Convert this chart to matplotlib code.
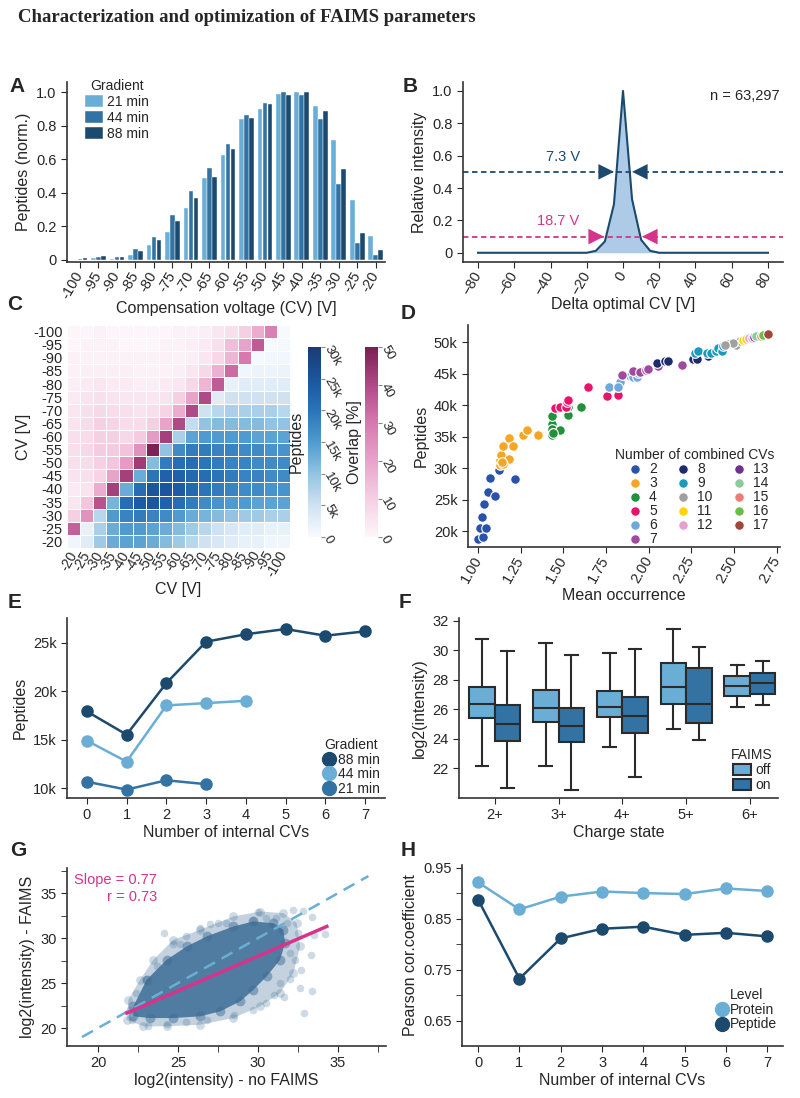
# FAIMS parameter characterization - multi-panel figure (A-H)

import numpy as np
import matplotlib
matplotlib.use('Agg')
import matplotlib.pyplot as plt
from matplotlib.colors import LinearSegmentedColormap
from matplotlib.lines import Line2D
from matplotlib.patches import Patch
from matplotlib.ticker import FuncFormatter, MultipleLocator

plt.rcParams['font.family'] = ['Liberation Sans', 'DejaVu Sans']
plt.rcParams['text.color'] = '#262626'
plt.rcParams['axes.labelcolor'] = '#262626'
plt.rcParams['xtick.color'] = '#262626'
plt.rcParams['ytick.color'] = '#262626'
plt.rcParams['axes.edgecolor'] = '#333333'
plt.rcParams['axes.linewidth'] = 1.2
plt.rcParams['xtick.major.size'] = 4
plt.rcParams['ytick.major.size'] = 4
plt.rcParams['xtick.minor.size'] = 4
plt.rcParams['ytick.minor.size'] = 4
plt.rcParams['xtick.labelsize'] = 10.5
plt.rcParams['ytick.labelsize'] = 10.5
plt.rcParams['axes.labelsize'] = 11.5
plt.rcParams['legend.fontsize'] = 10
plt.rcParams['legend.title_fontsize'] = 10
plt.rcParams['legend.frameon'] = False

light = '#6aaed6'
mid = '#3373a3'
dark = '#1c4a6e'
pink = '#d6338a'

# ---- data ----
# A: normalized peptides per CV
cv_values = [-100, -95, -90, -85, -80, -75, -70, -65, -60, -55, -50, -45, -40, -35, -30, -25, -20]
a_21min = [0.002, 0.01, 0.006, 0.03, 0.087, 0.169, 0.312, 0.487, 0.624, 0.839, 0.90, 0.99, 1.0, 0.92, 0.716, 0.358, 0.141]
a_44min = [0.006, 0.02, 0.016, 0.064, 0.139, 0.268, 0.41, 0.549, 0.69, 0.863, 0.936, 1.0, 0.98, 0.839, 0.45, 0.103, 0.028]
a_88min = [0.012, 0.024, 0.02, 0.056, 0.119, 0.233, 0.372, 0.497, 0.662, 0.847, 0.928, 0.982, 1.0, 0.885, 0.541, 0.163, 0.06]

# B: delta optimal CV profile
b_delta = [-80, -20, -15, -10, -5, 0, 5, 10, 15, 20, 80]
b_intensity = [0, 0, 0.012, 0.07, 0.3, 1.0, 0.33, 0.08, 0.012, 0, 0]

# C: heatmap, CV order from -20 (bottom/left) to -100
c_cv = [-20, -25, -30, -35, -40, -45, -50, -55, -60, -65, -70, -75, -80, -85, -90, -95, -100]
# peptides (k), row i holds columns i..16
c_peptides = [
    [1, 3, 9, 13, 14, 14, 13, 11, 9, 7, 5, 4, 3, 2, 2, 1, 1],
    [2, 8, 13, 15, 15, 14, 13, 11, 9, 7, 5, 4, 3, 3, 2, 2],
    [7, 15, 18, 19, 18, 17, 15, 13, 12, 11, 10, 9, 9, 8, 8],
    [12, 21, 24, 25, 23, 21, 19, 17, 16, 15, 15, 14, 14, 14],
    [13, 21, 25, 25, 24, 22, 20, 19, 18, 17, 17, 16, 16],
    [13, 20, 23, 23, 22, 21, 20, 19, 18, 18, 17, 17],
    [11, 19, 21, 21, 20, 19, 18, 18, 17, 17, 17],
    [10, 17, 19, 19, 18, 18, 17, 17, 16, 16],
    [8, 14, 15, 15, 15, 15, 14, 14, 14],
    [6, 10, 11, 11, 11, 11, 10, 10],
    [5, 7, 8, 8, 8, 8, 7],
    [3, 5, 5, 5, 5, 5],
    [2, 3, 3, 3, 3],
    [1, 1.5, 1.5, 1.5],
    [0.5, 0.8, 0.8],
    [0.3, 0.4],
    [0.2],
]
# overlap (%), row i (from 1) holds columns 0..i-1
c_overlap = [
    [35],
    [10, 24],
    [4, 12, 38],
    [3, 5, 18, 42],
    [5, 6, 9, 20, 42],
    [6, 7, 10, 12, 22, 43],
    [6, 8, 11, 11, 13, 24, 49],
    [6, 7, 10, 10, 8, 11, 22, 42],
    [5, 7, 10, 9, 7, 7, 10, 20, 40],
    [4, 6, 8, 7, 6, 5, 6, 9, 18, 40],
    [3, 5, 6, 5, 4, 4, 4, 5, 10, 20, 40],
    [2, 3, 4, 3, 3, 2, 2, 3, 4, 8, 16, 36],
    [1, 2, 2, 2, 2, 1, 1, 1, 2, 4, 8, 17, 33],
    [1, 1, 1, 1, 1, 1, 1, 1, 1, 2, 4, 8, 16, 30],
    [0, 1, 1, 1, 0, 0, 0, 1, 1, 2, 3, 6, 14, 20, 36],
    [0, 0, 1, 0, 0, 0, 0, 0, 1, 1, 2, 4, 6, 10, 18, 28],
]

# D: combined CVs
d_groups = [2, 3, 4, 5, 6, 7, 8, 9, 10, 11, 12, 13, 14, 15, 16, 17]
d_colors = ['#2a52a8', '#f5a623', '#21913b', '#e5156b', '#6fa8dc', '#a04a9d', '#1d2a6b', '#1a9bbb',
            '#a0a0a0', '#ffd500', '#e59fd3', '#6a3390', '#8ccb9a', '#f07c78', '#6bbe45', '#a0463c']
d_x = [
    [1.00, 1.027, 1.012, 1.047, 1.025, 1.035, 1.055, 1.096, 1.070, 1.119, 1.213],
    [1.129, 1.129, 1.133, 1.144, 1.178, 1.178, 1.203, 1.265, 1.285, 1.349, 1.148, 1.140],
    [1.431, 1.431, 1.441, 1.431, 1.480, 1.529, 1.529, 1.603, 1.441, 1.431],
    [1.451, 1.480, 1.513, 1.519, 1.529, 1.646, 1.753, 1.822],
    [1.769, 1.822, 1.831, 1.851, 1.890, 1.909, 1.929, 1.939, 1.822],
    [1.841, 1.909, 1.948, 1.984, 1.997, 2.056, 2.198],
    [2.046, 2.095, 2.114, 2.261, 2.286, 2.349],
    [2.270, 2.290, 2.339, 2.368, 2.397, 2.407, 2.427, 2.436],
    [2.466, 2.514, 2.534, 2.495, 2.450],
    [2.555, 2.570],
    [2.590, 2.605],
    [2.620],
    [2.632],
    [2.660, 2.680],
    [2.670],
    [2.700],
]
d_y = [
    [18780, 19150, 20530, 20530, 22230, 24350, 26210, 25520, 28490, 29660, 28230],
    [30460, 31260, 32050, 33540, 31520, 34810, 33540, 35240, 36030, 35240, 30700, 30900],
    [36940, 36140, 35500, 35300, 36000, 38420, 39750, 39750, 35600, 38260],
    [39590, 39750, 39750, 40550, 40810, 42940, 41450, 41610],
    [42830, 42830, 43730, 44800, 44640, 44420, 44420, 45060, 42900],
    [44800, 45330, 45170, 45590, 45700, 46120, 46300],
    [46650, 46920, 46920, 47350, 47350, 47720],
    [48250, 48510, 48250, 48250, 48510, 49040, 48510, 49310],
    [49680, 49580, 50110, 49840, 49500],
    [50300, 50450],
    [50600, 50700],
    [50800],
    [50900],
    [51000, 51150],
    [51050],
    [51200],
]

# E: peptides vs internal CVs
e_internal = [0, 1, 2, 3, 4, 5, 6, 7]
e_88min = [17920, 15520, 20850, 25130, 25900, 26440, 25750, 26200]
e_44min = [14900, 12730, 18540, 18780, 19020]
e_21min = [10650, 9840, 10800, 10400]

# F: box stats per charge state (whislo, q1, med, q3, whishi)
f_charges = ['2+', '3+', '4+', '5+', '6+']
f_off = [[22.18, 25.39, 26.37, 27.54, 30.76],
         [22.18, 25.17, 26.10, 27.32, 30.53],
         [23.47, 25.46, 26.19, 27.23, 29.85],
         [24.67, 26.37, 27.54, 29.13, 31.46],
         [26.19, 26.93, 27.59, 28.27, 29.01]]
f_on = [[20.71, 23.86, 24.99, 26.30, 29.95],
        [20.51, 23.81, 24.87, 26.12, 29.69],
        [21.43, 24.42, 25.55, 26.86, 30.08],
        [23.92, 25.10, 26.37, 28.79, 30.21],
        [26.30, 27.02, 27.77, 28.49, 29.28]]

# G: intensity no FAIMS vs FAIMS (dense core / halo outlines and sparse points)
g_core_x = [22.21, 23.04, 24.29, 25.54, 26.79, 28.46, 29.71, 30.96, 31.58, 31.69, 31.38, 30.54,
            29.71, 28.88, 27.63, 26.38, 24.71, 23.25, 22.21]
g_core_y = [22.41, 25.37, 27.59, 29.07, 30.19, 31.30, 31.85, 31.67, 30.93, 29.44, 27.59, 25.74,
            24.26, 22.96, 21.85, 21.30, 21.11, 21.11, 21.30]
g_halo_x = [21.79, 21.90, 22.63, 23.46, 24.71, 26.38, 28.46, 30.13, 31.58, 32.42, 32.63, 32.21,
            31.38, 30.13, 28.46, 26.38, 24.29, 22.83]
g_halo_y = [20.93, 23.15, 25.37, 27.59, 29.81, 30.93, 32.41, 32.96, 32.78, 31.67, 29.07, 26.11,
            23.89, 22.41, 21.11, 20.37, 20.19, 20.19]
g_sparse_x = [24.1, 25.1, 27.5, 30.0, 30.5, 32.2, 32.8, 33.4, 33.5, 33.3, 32.3, 32.7, 32.0, 32.6,
              33.4, 31.6, 31.0, 31.4, 32.9, 32.0, 32.5, 31.8, 31.1, 29.7, 28.0, 26.4, 25.5, 24.7,
              23.7, 23.0, 22.4, 22.0, 22.1, 23.1, 24.3, 25.5, 26.8, 28.5, 29.7, 30.5, 34.2, 27.0]
g_sparse_y = [30.6, 29.4, 31.7, 32.9, 32.2, 33.1, 33.0, 32.4, 30.4, 28.1, 27.6, 26.5, 25.4, 24.4,
              24.1, 23.5, 23.7, 25.0, 21.7, 28.3, 30.6, 31.7, 32.2, 32.0, 31.7, 31.1, 30.2, 29.4,
              26.9, 25.4, 23.9, 22.0, 20.9, 20.2, 20.4, 20.7, 20.9, 21.5, 22.0, 22.8, 30.5, 31.6]
g_identity = [19.0, 36.9]
g_fit_x = [21.8, 34.3]
g_fit_y = [21.67, 31.3]

# H: Pearson correlation
h_internal = [0, 1, 2, 3, 4, 5, 6, 7]
h_protein = [0.921, 0.868, 0.893, 0.903, 0.900, 0.898, 0.909, 0.904]
h_peptide = [0.887, 0.732, 0.811, 0.830, 0.834, 0.818, 0.822, 0.815]

# ---- figure ----
fig = plt.figure(figsize=(8, 10.98), dpi=100)


def add_axes(left, top, right, bottom):
    return fig.add_axes([left / 800, 1 - bottom / 1098, (right - left) / 800, (bottom - top) / 1098])


def clean(ax):
    ax.spines['top'].set_visible(False)
    ax.spines['right'].set_visible(False)


def letter(x, y, s):
    fig.text(x / 800, 1 - y / 1098, s, fontsize=15, fontweight='bold', ha='center', va='center')


fig.text(18 / 800, 1 - 18 / 1098, 'Characterization and optimization of FAIMS parameters',
         fontfamily='Liberation Serif', fontweight='bold', fontsize=13.5, va='center', ha='left')

zero_fmt = FuncFormatter(lambda v, p: '0' if abs(v) < 1e-9 else f'{v:.1f}')
k_fmt = FuncFormatter(lambda v, p: '0' if v == 0 else f'{v / 1000:g}k')

# A
ax = add_axes(67, 82, 385, 262)
clean(ax)
xa = np.arange(len(cv_values))
for k, (lab, vals, col) in enumerate([('21 min', a_21min, light), ('44 min', a_44min, mid),
                                      ('88 min', a_88min, dark)]):
    ax.bar(xa + (k - 1) * 0.27, vals, width=0.25, color=col, edgecolor='white', linewidth=0.3, label=lab)
ax.set_xticks(xa, [str(v) for v in cv_values], rotation=60, ha='right', va='center', rotation_mode='anchor')
ax.set_xlim(-0.7, 16.5)
ax.set_ylim(-0.012, 1.06)
ax.set_yticks([0, 0.2, 0.4, 0.6, 0.8, 1.0])
ax.yaxis.set_major_formatter(zero_fmt)
ax.set_xlabel('Compensation voltage (CV) [V]', labelpad=0)
ax.set_ylabel('Peptides (norm.)')
ax.legend(title='Gradient', loc='upper left', bbox_to_anchor=(0.04, 1.05), handlelength=1.3,
          handleheight=0.9, labelspacing=0.15, handletextpad=0.3, borderaxespad=0)
letter(17, 87, 'A')

# B
ax = add_axes(463, 82, 783, 262)
clean(ax)
ax.fill_between(b_delta, b_intensity, color='#adcbe6', lw=0)
ax.plot(b_delta, b_intensity, color=dark, lw=1.5)
ax.axhline(0.5, ls='--', color=dark, lw=1.3, dashes=(3, 2))
ax.axhline(0.1, ls='--', color=pink, lw=1.3, dashes=(3, 2))
for tip, y, col in [(-5, 0.5, dark), (5, 0.5, dark), (-10.5, 0.1, pink), (10.5, 0.1, pink)]:
    ax.annotate('', xy=(tip, y), xytext=(tip + 8 * np.sign(tip), y),
                arrowprops=dict(arrowstyle='-|>,head_length=0.8,head_width=0.4', color=col, lw=0,
                                shrinkA=0, shrinkB=0, mutation_scale=14))
ax.text(-33, 0.55, '7.3 V', color=dark, ha='center', va='bottom', fontsize=10.5)
ax.text(-35.7, 0.15, '18.7 V', color=pink, ha='center', va='bottom', fontsize=10.5)
ax.text(67, 0.97, 'n = 63,297', ha='center', va='center', fontsize=10.5)
ax.set_xlim(-88.3, 88.3)
ax.set_ylim(-0.057, 1.055)
ax.set_xticks(range(-80, 81, 20))
ax.tick_params(axis='x', labelrotation=60)
for lbl in ax.get_xticklabels():
    lbl.set_ha('right')
    lbl.set_va('center')
    lbl.set_rotation_mode('anchor')
ax.set_yticks([0, 0.2, 0.4, 0.6, 0.8, 1.0])
ax.yaxis.set_major_formatter(zero_fmt)
ax.set_xlabel('Delta optimal CV [V]', labelpad=0)
ax.set_ylabel('Relative intensity')
letter(410, 86, 'B')

# C
blue_cmap = LinearSegmentedColormap.from_list('pep', [(0, '#f7fbff'), (0.17, '#cfe1f2'), (0.33, '#93c4e2'),
                                                      (0.5, '#4f9bd0'), (0.67, '#2a73b8'),
                                                      (0.83, '#1a569f'), (1, '#1b3a73')])
pink_cmap = LinearSegmentedColormap.from_list('ovl', [(0, '#fdf5f9'), (0.2, '#f5d0e3'), (0.4, '#e8a3cb'),
                                                      (0.6, '#d779ae'), (0.8, '#b04a87'), (1, '#7a1d51')])
n = len(c_cv)
pep = np.full((n, n), np.nan)
for i, row in enumerate(c_peptides):
    pep[i, i:] = np.array(row) * 1000
ovl = np.full((n, n), np.nan)
for i, row in enumerate(c_overlap):
    ovl[i + 1, :i + 1] = row

ax = add_axes(67, 325, 290, 548)
m1 = ax.pcolormesh(np.ma.masked_invalid(pep), cmap=blue_cmap, vmin=0, vmax=30000,
                   edgecolors='white', linewidth=0.4)
m2 = ax.pcolormesh(np.ma.masked_invalid(ovl), cmap=pink_cmap, vmin=0, vmax=50,
                   edgecolors='white', linewidth=0.4)
for s in ax.spines.values():
    s.set_visible(False)
ax.set_xlim(0, n)
ax.set_ylim(0, n)
ax.set_xticks(np.arange(n) + 0.5, [str(v) for v in c_cv], rotation=60, ha='right', va='center',
              rotation_mode='anchor', fontsize=10)
ax.set_yticks(np.arange(n) + 0.5, [str(v) for v in c_cv], fontsize=10.5)
ax.tick_params(length=0, pad=3)
ax.set_xlabel('CV [V]', labelpad=2)
ax.set_ylabel('CV [V]', labelpad=2)

for mesh, (l, r), label, ticks, fmt, lx in [(m1, (308, 321), 'Peptides', range(0, 30001, 5000), k_fmt, -0.3),
                                            (m2, (365, 378), 'Overlap [%]', range(0, 51, 10), None, -0.2)]:
    cax = add_axes(l, 347, r, 537)
    cb = fig.colorbar(mesh, cax=cax, ticks=list(ticks))
    cb.outline.set_visible(False)
    if fmt is not None:
        cb.formatter = fmt
        cb.update_ticks()
    cax.tick_params(axis='y', labelsize=9.5, length=3, color='#888888', pad=1)
    for lbl in cax.get_yticklabels():
        lbl.set_rotation(-60)
        lbl.set_ha('left')
        lbl.set_va('center')
        lbl.set_rotation_mode('anchor')
    cax.yaxis.set_label_position('left')
    cb.set_label(label, fontsize=11.5)
    cax.yaxis.set_label_coords(lx, 0.5)
letter(15, 305, 'C')

# D
ax = add_axes(468, 325, 780, 547)
clean(ax)
for g, col, xs, ys in zip(d_groups, d_colors, d_x, d_y):
    ax.scatter(xs, ys, s=48, color=col, edgecolor='white', linewidth=0.8, label=str(g), zorder=3)
ax.set_xlim(0.94, 2.77)
ax.set_ylim(17500, 52700)
ax.set_xticks([1.0, 1.25, 1.5, 1.75, 2.0, 2.25, 2.5, 2.75])
ax.xaxis.set_major_formatter(FuncFormatter(lambda v, p: f'{v:.2f}'))
ax.tick_params(axis='x', labelrotation=60)
for lbl in ax.get_xticklabels():
    lbl.set_ha('right')
    lbl.set_va('center')
    lbl.set_rotation_mode('anchor')
ax.set_yticks(range(20000, 50001, 5000))
ax.yaxis.set_major_formatter(k_fmt)
ax.set_xlabel('Mean occurrence', labelpad=2)
ax.set_ylabel('Peptides')
ax.legend(title='Number of combined CVs', ncol=3, loc='lower right', bbox_to_anchor=(1.0, -0.02),
          handletextpad=0.0, columnspacing=0.9, labelspacing=0.0, borderaxespad=0, fontsize=10)
letter(408, 313, 'D')

# E
ax = add_axes(67, 618, 385, 798)
clean(ax)
for lab, vals, col in [('88 min', e_88min, dark), ('44 min', e_44min, light), ('21 min', e_21min, mid)]:
    ax.plot(e_internal[:len(vals)], vals, 'o-', color=col, ms=8, lw=1.8, label=lab)
ax.set_xlim(-0.5, 7.5)
ax.set_ylim(8970, 27580)
ax.set_xticks(e_internal)
ax.set_yticks([10000, 15000, 20000, 25000])
ax.yaxis.set_major_formatter(k_fmt)
ax.set_xlabel('Number of internal CVs', labelpad=2)
ax.set_ylabel('Peptides')
e_handles = [Line2D([], [], marker='o', ls='', color=c, ms=10) for c in (dark, light, mid)]
ax.legend(e_handles, ['88 min', '44 min', '21 min'], title='Gradient', loc='lower right',
          bbox_to_anchor=(1.0, -0.02), handletextpad=0.1, labelspacing=0.05, borderaxespad=0,
          handlelength=1.0)
letter(15, 603, 'E')

# F
ax = add_axes(459, 618, 778, 798)
clean(ax)
edge = '#2b2b2b'
for stats_list, offset, col in [(f_off, -0.2, light), (f_on, 0.2, mid)]:
    stats = [dict(whislo=s[0], q1=s[1], med=s[2], q3=s[3], whishi=s[4], fliers=[]) for s in stats_list]
    ax.bxp(stats, positions=np.arange(len(f_charges)) + offset, widths=0.4, patch_artist=True,
           showfliers=False, capwidths=0.2,
           boxprops=dict(facecolor=col, edgecolor=edge, linewidth=1.5),
           medianprops=dict(color=edge, linewidth=1.5),
           whiskerprops=dict(color=edge, linewidth=1.5),
           capprops=dict(color=edge, linewidth=1.5))
ax.set_xlim(-0.56, 4.44)
ax.set_ylim(20, 32.2)
ax.set_xticks(range(len(f_charges)), f_charges)
ax.set_yticks([22, 24, 26, 28, 30, 32])
ax.set_xlabel('Charge state', labelpad=2)
ax.set_ylabel('log2(intensity)')
f_handles = [Patch(facecolor=c, edgecolor=edge, linewidth=1.5) for c in (light, mid)]
ax.legend(f_handles, ['off', 'on'], title='FAIMS', loc='lower right', bbox_to_anchor=(1.0, 0.0),
          handletextpad=0.3, labelspacing=0.1, borderaxespad=0, handlelength=1.3, handleheight=0.9)
letter(405, 603, 'F')

# G
ax = add_axes(67, 868, 386, 1046)
clean(ax)
gcol = '#3d6d96'
ax.fill(g_halo_x, g_halo_y, color=gcol, alpha=0.3, lw=0)
ax.scatter(g_halo_x, g_halo_y, s=40, color=gcol, alpha=0.25, lw=0)
ax.fill(g_core_x, g_core_y, color=gcol, alpha=0.85, lw=0)
ax.scatter(g_core_x, g_core_y, s=50, color=gcol, alpha=0.5, lw=0)
ax.scatter(g_sparse_x, g_sparse_y, s=30, color=gcol, alpha=0.25, lw=0)
ax.plot(g_identity, g_identity, ls='--', color=light, lw=1.8, dashes=(5, 3))
ax.plot(g_fit_x, g_fit_y, color=pink, lw=2.5)
ax.text(23.7, 36.5, 'Slope = 0.77', color=pink, ha='right', va='center', fontsize=10.5)
ax.text(23.7, 34.6, 'r = 0.73', color=pink, ha='right', va='center', fontsize=10.5)
ax.set_xlim(18.06, 38.0)
ax.set_ylim(18.0, 37.8)
ax.xaxis.set_major_locator(MultipleLocator(5))
ax.xaxis.set_minor_locator(MultipleLocator(2.5))
ax.yaxis.set_major_locator(MultipleLocator(5))
ax.yaxis.set_minor_locator(MultipleLocator(2.5))
ax.set_xlabel('log2(intensity) - no FAIMS', labelpad=2)
ax.set_ylabel('log2(intensity) - FAIMS')
letter(18, 850, 'G')

# H
ax = add_axes(462, 865, 783, 1046)
clean(ax)
ax.plot(h_internal, h_protein, 'o-', color=light, ms=8, lw=1.8)
ax.plot(h_internal, h_peptide, 'o-', color=dark, ms=8, lw=1.8)
ax.set_xlim(-0.39, 7.38)
ax.set_ylim(0.60, 0.955)
ax.set_xticks(h_internal)
ax.set_yticks([0.65, 0.75, 0.85, 0.95])
ax.set_yticks([0.70, 0.80, 0.90], minor=True)
ax.set_xlabel('Number of internal CVs', labelpad=2)
ax.set_ylabel('Pearson cor.coefficient')
h_handles = [Line2D([], [], marker='o', ls='', color=c, ms=10) for c in (light, dark)]
ax.legend(h_handles, ['Protein', 'Peptide'], title='Level', loc='lower right', bbox_to_anchor=(1.0, 0.05),
          handletextpad=0.1, labelspacing=0.05, borderaxespad=0, handlelength=1.0)
letter(408, 850, 'H')

fig.savefig('out.png', dpi=100)
